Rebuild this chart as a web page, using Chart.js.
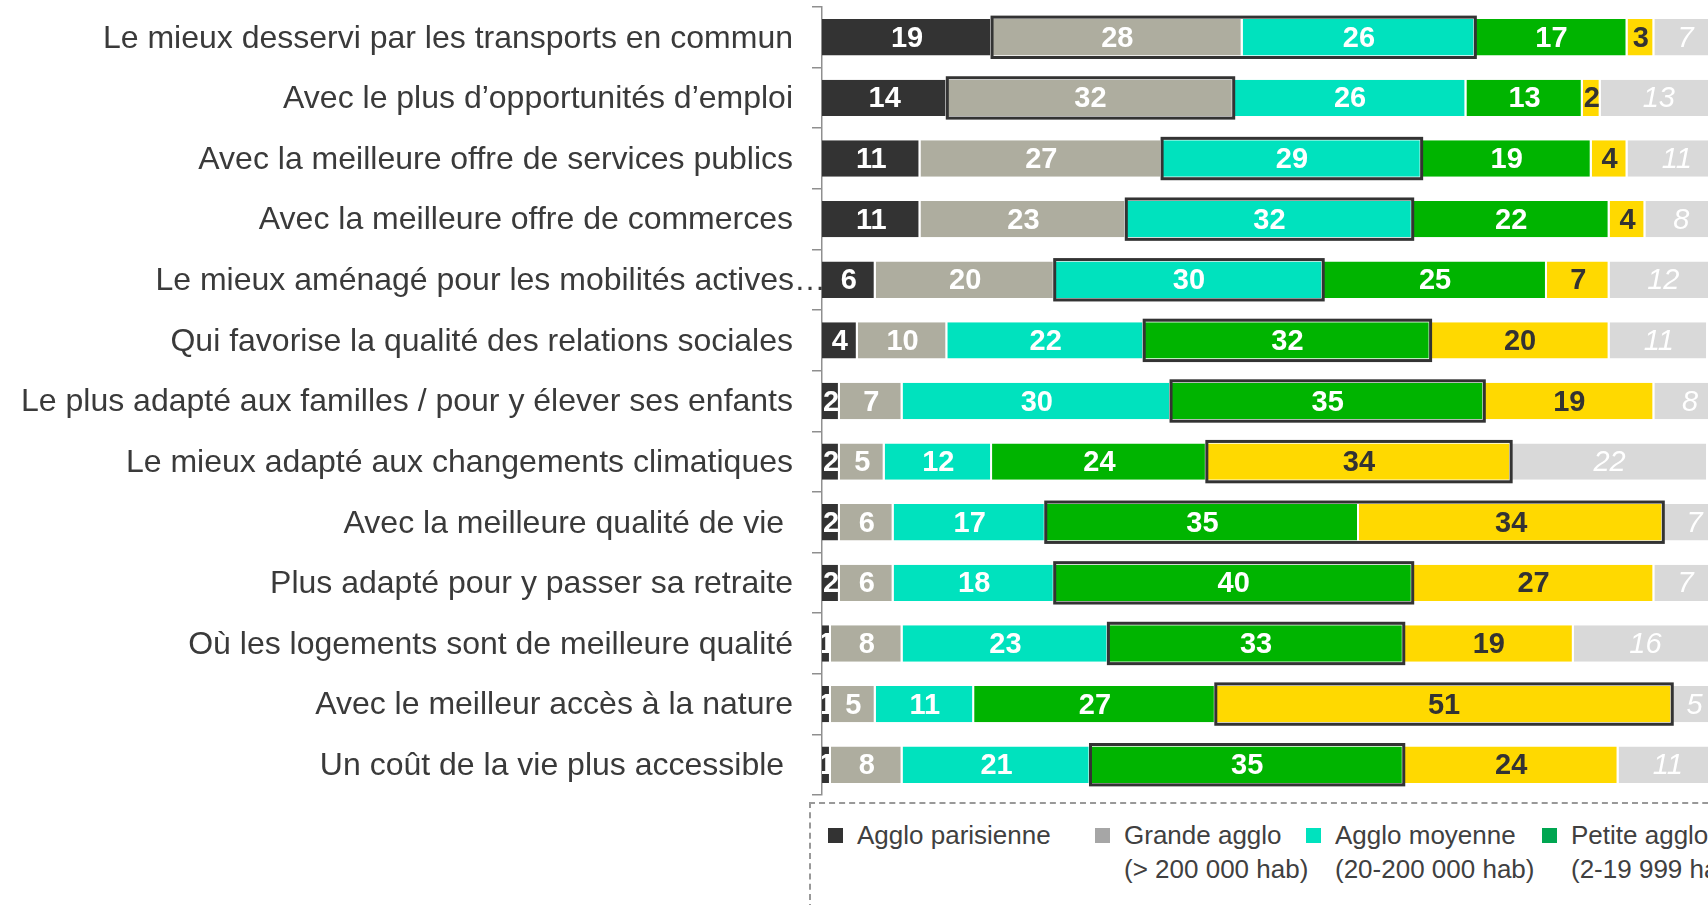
<!DOCTYPE html>
<html>
<head>
<meta charset="utf-8">
<title>Territoire le mieux adapté</title>
<script src="https://cdn.jsdelivr.net/npm/chart.js"></script>
<style>
    html, body { margin: 0; padding: 0; background: #fff; }
    #page { position: relative; width: 1708px; height: 905px; overflow: hidden;
            font-family: "Liberation Sans", Arial, sans-serif; }
    #chartBox { position: absolute; left: 0; top: 0; width: 1760px; height: 800px; }
    #legend { position: absolute; left: 809px; top: 802px; width: 1100px; height: 200px;
              border: 2px dashed #999; box-sizing: border-box; }
    .item { position: absolute; top: 14px; font-size: 26px; line-height: 34px;
            color: #404040; white-space: nowrap; }
    .item i { position: absolute; left: 0; top: 10px; width: 15px; height: 15px; }
    .item span { display: block; margin-left: 29px; }
</style>
</head>
<body>
<div id="page">
    <div id="chartBox"><canvas id="chart"></canvas></div>
    <div id="legend"></div>
</div>

<script>
    // libellés des lignes (l'espace final est dans l'original)
    var categories = [
        'Le mieux desservi par les transports en commun',
        'Avec le plus d\u2019opportunités d\u2019emploi',
        'Avec la meilleure offre de services publics',
        'Avec la meilleure offre de commerces',
        'Le mieux aménagé pour les mobilités actives\u2026',
        'Qui favorise la qualité des relations sociales',
        'Le plus adapté aux familles / pour y élever ses enfants',
        'Le mieux adapté aux changements climatiques',
        'Avec la meilleure qualité de vie ',
        'Plus adapté pour y passer sa retraite',
        'Où les logements sont de meilleure qualité',
        'Avec le meilleur accès à la nature',
        'Un coût de la vie plus accessible '
    ];

    var seriesNames = ['Agglo parisienne', 'Grande agglo', 'Agglo moyenne', 'Petite agglo', 'Commune rurale', 'Ne sait pas'];
    var seriesNotes = ['', '(> 200 000 hab)', '(20-200 000 hab)', '(2-19 999 hab)', '', ''];

    var parisienne = [19, 14, 11, 11, 6, 4, 2, 2, 2, 2, 1, 1, 1];
    var grande     = [28, 32, 27, 23, 20, 10, 7, 5, 6, 6, 8, 5, 8];
    var moyenne    = [26, 26, 29, 32, 30, 22, 30, 12, 17, 18, 23, 11, 21];
    var petite     = [17, 13, 19, 22, 25, 32, 35, 24, 35, 40, 33, 27, 35];
    var rurale     = [3, 2, 4, 4, 7, 20, 19, 34, 34, 27, 19, 51, 24];
    var autre      = [7, 13, 11, 8, 12, 11, 8, 22, 7, 7, 16, 5, 11];

    // segments encadrés : [première série, dernière série] pour chaque ligne
    var highlights = [[1, 2], [1, 1], [2, 2], [2, 2], [2, 2], [3, 3], [3, 3], [4, 4], [3, 4], [3, 3], [3, 3], [4, 4], [3, 3]];

    var FONT = '"Liberation Sans", Arial, sans-serif';
    var barColors = ['#333333', '#AEAD9F', '#00E2BE', '#00B400', '#FFD900', '#D9D9D9'];
    var swatchColors = ['#333333', '#A6A6A6', '#00E2BE', '#00A651', '#FFD900', '#D9D9D9'];
    var labelColors = ['#fff', '#fff', '#fff', '#fff', '#333', '#fff'];
    var labelFonts = ['bold', 'bold', 'bold', 'bold', 'bold', 'italic'];
    var legendLeft = [17, 284, 495, 731, 980, 1230];

    var allSeries = [parisienne, grande, moyenne, petite, rurale, autre];

    // étiquettes des catégories + cadres + valeurs
    var decorations = {
        id: 'decorations',
        afterDatasetsDraw: function(chart) {
            var ctx = chart.ctx;

            ctx.save();
            ctx.strokeStyle = '#333';
            ctx.lineWidth = 3;
            highlights.forEach(function(h, row) {
                var a = chart.getDatasetMeta(h[0]).data[row].getProps(['x', 'y', 'base', 'height'], true);
                var b = chart.getDatasetMeta(h[1]).data[row].getProps(['x', 'y', 'base', 'height'], true);
                var left = Math.min(a.x, a.base);
                var right = Math.max(b.x, b.base);
                ctx.strokeRect(left, a.y - a.height / 2 - 2, right - left, a.height + 4);
            });
            ctx.restore();

            chart.data.datasets.forEach(function(ds, i) {
                chart.getDatasetMeta(i).data.forEach(function(el, j) {
                    var p = el.getProps(['x', 'y', 'base', 'height'], true);
                    var left = Math.min(p.x, p.base);
                    var w = Math.abs(p.x - p.base);
                    ctx.save();
                    ctx.beginPath();
                    ctx.rect(left, p.y - p.height / 2, w, p.height);
                    ctx.clip();
                    ctx.font = labelFonts[i] + ' 29px ' + FONT;
                    ctx.fillStyle = labelColors[i];
                    ctx.textAlign = 'center';
                    ctx.textBaseline = 'middle';
                    ctx.fillText(ds.data[j], left + w / 2, p.y + 1.5);
                    ctx.restore();
                });
            });

            var y = chart.scales.y;
            ctx.save();
            ctx.font = '32px ' + FONT;
            ctx.fillStyle = '#3a3a3a';
            ctx.textAlign = 'right';
            ctx.textBaseline = 'middle';
            categories.forEach(function(c, i) {
                // le libellé tronqué déborde jusqu'à l'axe
                var x = c.endsWith('\u2026') ? y.right + 4 : y.right - 29;
                ctx.fillText(c, x, y.getPixelForTick(i) + 1.5);
            });
            ctx.restore();
        }
    };

    var ctx = document.getElementById('chart').getContext('2d');
    var chart = new Chart(ctx, {
        type: 'bar',
        data: {
            labels: categories,
            datasets: allSeries.map(function(s, i) {
                return {
                    label: seriesNames[i],
                    data: s,
                    backgroundColor: barColors[i],
                    borderColor: '#fff',
                    borderWidth: { top: 0, bottom: 0, left: 0, right: 2 },
                    borderSkipped: false,
                    barPercentage: 0.6,
                    categoryPercentage: 1.0
                };
            })
        },
        options: {
            indexAxis: 'y',
            responsive: true,
            maintainAspectRatio: false,
            animation: false,
            layout: { padding: { top: 7, bottom: 5, left: 0, right: 43 } },
            plugins: {
                legend: { display: false },
                tooltip: { enabled: false }
            },
            scales: {
                x: { stacked: true, display: false, min: 0, max: 100 },
                y: {
                    stacked: true,
                    border: { display: true, color: '#8f8f8f', width: 1.5 },
                    grid: { display: true, drawOnChartArea: false, tickLength: 10, color: '#8f8f8f', lineWidth: 1.5, offset: true },
                    ticks: { display: false },
                    afterFit: function(scale) {
                        scale.width = 822;
                        scale.paddingTop = 0;
                        scale.paddingBottom = 0;
                    }
                }
            }
        },
        plugins: [decorations]
    });

    // légende
    var legend = document.getElementById('legend');
    seriesNames.slice(0, 4).forEach(function(name, i) {
        var item = document.createElement('div');
        item.className = 'item';
        item.style.left = legendLeft[i] + 'px';
        var sw = document.createElement('i');
        sw.style.background = swatchColors[i];
        item.appendChild(sw);
        var t = document.createElement('span');
        t.textContent = name;
        item.appendChild(t);
        if (seriesNotes[i]) {
            var n = document.createElement('span');
            n.textContent = seriesNotes[i];
            item.appendChild(n);
        }
        legend.appendChild(item);
    });
</script>
</body>
</html>
